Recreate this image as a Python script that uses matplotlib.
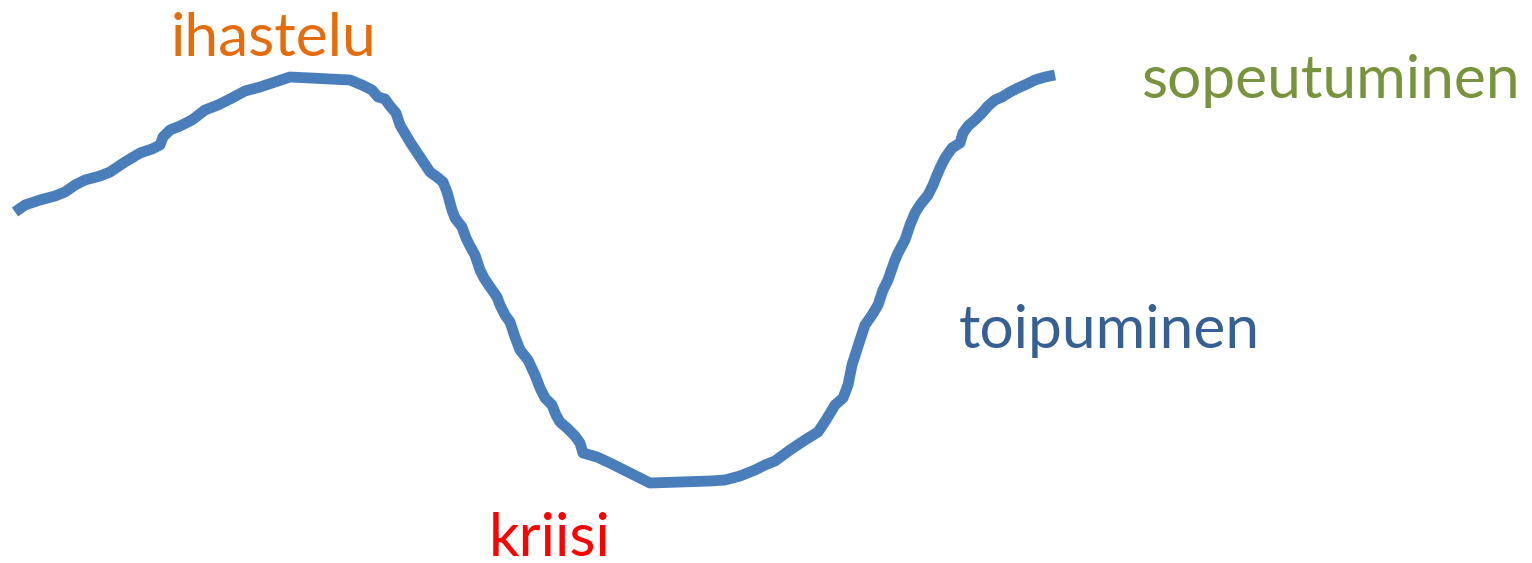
import numpy as np
import matplotlib.pyplot as plt

# curve (pixel coords, y downwards)
curve_x = [15, 25, 40, 55, 65, 75, 85, 100, 110, 125, 140, 152, 160, 163, 170, 180, 192, 205,
           218, 232, 245, 260, 275, 290, 310, 330, 350, 362, 372, 378, 385, 390, 396, 400,
           410, 420, 430, 437, 443, 447, 452, 455, 462, 466, 470, 475, 480, 484, 490, 497,
           500, 505, 510, 515, 520, 528, 535, 540, 545, 552, 556, 560, 567, 575, 580, 583,
           597, 610, 620, 632, 650, 680, 710, 725, 740, 755, 765, 775, 790, 805, 818, 826,
           835, 843, 848, 852, 860, 865, 872, 878, 883, 888, 895, 898, 905, 910, 915, 920,
           928, 933, 937, 940, 945, 952, 960, 963, 968, 975, 982, 988, 995, 1002, 1010,
           1018, 1027, 1035, 1045, 1055]
curve_y = [212, 205, 200, 196, 192, 185, 180, 176, 172, 162, 153, 149, 145, 137, 130, 126, 120,
           110, 105, 98, 91, 87, 82, 77, 78, 79, 80, 85, 90, 97, 99, 106, 113, 125,
           142, 157, 172, 177, 182, 192, 210, 218, 227, 238, 246, 255, 270, 278, 287, 297,
           305, 315, 322, 337, 350, 360, 375, 388, 398, 405, 415, 422, 428, 436, 443, 453,
           457, 463, 468, 474, 483, 482, 481, 480, 476, 470, 465, 461, 450, 440, 432, 420,
           405, 398, 385, 365, 340, 325, 315, 305, 290, 280, 260, 253, 240, 225, 213, 205,
           195, 185, 175, 168, 158, 148, 143, 133, 126, 120, 113, 106, 100, 97, 92,
           88, 84, 80, 77, 75]

labels = ["ihastelu", "kriisi", "toipuminen", "sopeutuminen"]
label_x = [171, 489, 959, 1142]
label_y = [56, 556, 348, 98]
label_colors = ["#E46C0A", "#FF0000", "#376092", "#77933C"]

plt.rcParams['font.family'] = ['Lato', 'DejaVu Sans']

fig = plt.figure(figsize=(15.32, 5.63), dpi=100)
ax = fig.add_axes([0, 0, 1, 1])
ax.set_xlim(0, 1532)
ax.set_ylim(563, 0)
ax.axis('off')

ax.plot(curve_x, curve_y, color='#4A7EBB', lw=7.8, solid_joinstyle='round', solid_capstyle='butt')

for t, x, y, c in zip(labels, label_x, label_y, label_colors):
    ax.text(x, y, t, color=c, fontsize=43.5, ha='left', va='baseline')

fig.savefig("out.png", dpi=100)
